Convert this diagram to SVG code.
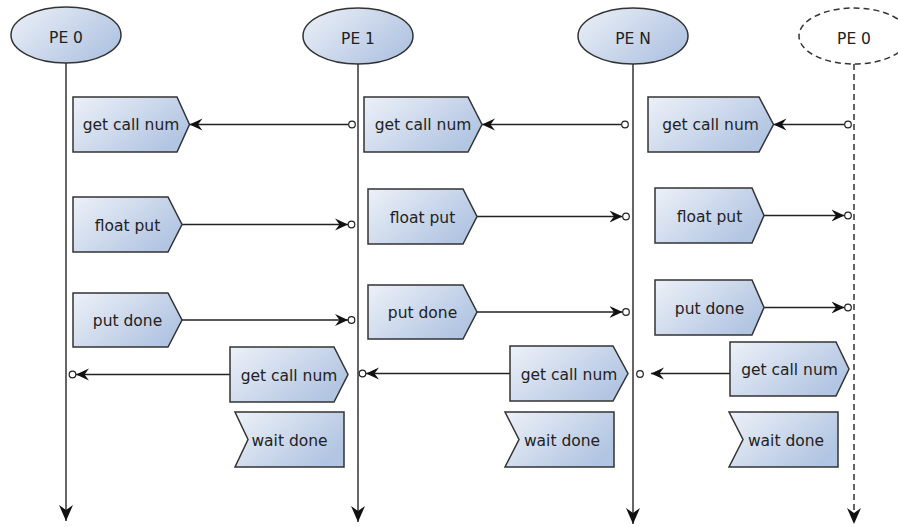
<svg xmlns="http://www.w3.org/2000/svg" width="898" height="527" viewBox="0 0 898 527">
<style>
.shape{fill:url(#g);stroke:#333;stroke-width:1.5}
.life{stroke:#333;stroke-width:1.5;fill:none}
.msg{stroke:#222;stroke-width:1.4;fill:none}
.dot{fill:#fff;stroke:#222;stroke-width:1.2}
text{font-family:"DejaVu Sans",sans-serif;font-size:15.5px;fill:#222;text-anchor:middle}
</style>
<defs>
<linearGradient id="g" x1="0" y1="0" x2="1" y2="0.6">
<stop offset="0" stop-color="#edf1f8"/>
<stop offset="1" stop-color="#b2c5e2"/>
</linearGradient>
<marker id="ah" markerUnits="userSpaceOnUse" markerWidth="15" markerHeight="14" refX="13" refY="6.5" orient="auto">
<path d="M0,0.5 L13,6.5 L0,12.5 L4.5,6.5 Z" fill="#111"/>
</marker>
<marker id="big" markerUnits="userSpaceOnUse" markerWidth="18" markerHeight="16" refX="16" refY="7" orient="auto">
<path d="M0,0 L16,7 L0,14 L5,7 Z" fill="#111"/>
</marker>
</defs>

<g id="lifelines">
<line class="life" x1="66" y1="63" x2="66" y2="521" marker-end="url(#big)"/>
<line class="life" x1="358" y1="64" x2="358" y2="522" marker-end="url(#big)"/>
<line class="life" x1="633" y1="64" x2="633" y2="524" marker-end="url(#big)"/>
<line class="life" x1="854" y1="64" x2="854" y2="524" stroke-dasharray="6,4" marker-end="url(#big)"/>
</g>

<g id="pe0"><ellipse class="shape" cx="66" cy="35" rx="55" ry="28"/><text x="66" y="43">PE 0</text></g>
<g id="pe1"><ellipse class="shape" cx="358" cy="36" rx="55" ry="28"/><text x="358" y="44">PE 1</text></g>
<g id="peN"><ellipse class="shape" cx="633" cy="36" rx="55" ry="28"/><text x="633" y="44">PE N</text></g>
<g id="pe0b"><ellipse cx="854" cy="36" rx="55" ry="28" fill="#fff" stroke="#333" stroke-width="1.5" stroke-dasharray="6,4"/><text x="854" y="44">PE 0</text></g>

<g id="connectors">
<line class="msg" x1="348.5" y1="124.5" x2="189.5" y2="124.5" marker-end="url(#ah)"/>
<circle class="dot" cx="352" cy="124.5" r="3.3"/>
<line class="msg" x1="621.5" y1="124.5" x2="482" y2="124.5" marker-end="url(#ah)"/>
<circle class="dot" cx="625" cy="124.5" r="3.3"/>
<line class="msg" x1="844.5" y1="124.5" x2="773.5" y2="124.5" marker-end="url(#ah)"/>
<circle class="dot" cx="848" cy="124.5" r="3.3"/>

<line class="msg" x1="182" y1="224.5" x2="348" y2="224.5" marker-end="url(#ah)"/>
<circle class="dot" cx="351.5" cy="224.5" r="3.3"/>
<line class="msg" x1="477" y1="216.5" x2="622.5" y2="216.5" marker-end="url(#ah)"/>
<circle class="dot" cx="626" cy="216.5" r="3.3"/>
<line class="msg" x1="764" y1="215.5" x2="844.5" y2="215.5" marker-end="url(#ah)"/>
<circle class="dot" cx="848" cy="215.5" r="3.3"/>

<line class="msg" x1="182" y1="320" x2="348" y2="320" marker-end="url(#ah)"/>
<circle class="dot" cx="351.5" cy="320" r="3.3"/>
<line class="msg" x1="477" y1="312" x2="622.5" y2="312" marker-end="url(#ah)"/>
<circle class="dot" cx="626" cy="312" r="3.3"/>
<line class="msg" x1="764" y1="307.5" x2="844.5" y2="307.5" marker-end="url(#ah)"/>
<circle class="dot" cx="848" cy="307.5" r="3.3"/>

<line class="msg" x1="230" y1="374.5" x2="76" y2="374.5" marker-end="url(#ah)"/>
<circle class="dot" cx="72.5" cy="374.5" r="3.3"/>
<line class="msg" x1="510" y1="373.5" x2="366" y2="373.5" marker-end="url(#ah)"/>
<circle class="dot" cx="362.5" cy="373.5" r="3.3"/>
<line class="msg" x1="730" y1="373.5" x2="651" y2="373.5" marker-end="url(#ah)"/>
<circle class="dot" cx="640" cy="374" r="3.3"/>
</g>

<g id="b1"><path class="shape" d="M73,97 H177 L189.5,124.5 L177,152 H73 Z"/><text x="131" y="130">get call num</text></g>
<g id="b2"><path class="shape" d="M364,97 H468 L482,124.5 L468,152 H364 Z"/><text x="423" y="130">get call num</text></g>
<g id="b3"><path class="shape" d="M648,97 H759 L773.5,124.5 L759,152 H648 Z"/><text x="710.5" y="130">get call num</text></g>

<g id="c1"><path class="shape" d="M73,197 H168 L182,224.5 L168,252 H73 Z"/><text x="127.5" y="230.5">float put</text></g>
<g id="c2"><path class="shape" d="M368,189 H463 L477,216.5 L463,244 H368 Z"/><text x="422.5" y="222.5">float put</text></g>
<g id="c3"><path class="shape" d="M655,188 H752 L764,215.5 L752,243 H655 Z"/><text x="709.5" y="221.5">float put</text></g>

<g id="d1"><path class="shape" d="M73,293 H168 L182,320 L168,347 H73 Z"/><text x="127.5" y="326">put done</text></g>
<g id="d2"><path class="shape" d="M368,285 H463 L477,312 L463,339 H368 Z"/><text x="422.5" y="318">put done</text></g>
<g id="d3"><path class="shape" d="M655,280 H752 L764,307.5 L752,335 H655 Z"/><text x="709.5" y="313.5">put done</text></g>

<g id="e1"><path class="shape" d="M230,347 H334 L348,374.5 L334,402 H230 Z"/><text x="289" y="380.5">get call num</text></g>
<g id="e2"><path class="shape" d="M510,346 H613 L628,373.5 L613,401 H510 Z"/><text x="569" y="379.5">get call num</text></g>
<g id="e3"><path class="shape" d="M730,342 H836 L849,369 L836,396 H730 Z"/><text x="789.5" y="375">get call num</text></g>

<g id="f1"><path class="shape" d="M235,412 H344 V467 H235 L248,439.5 Z"/><text x="289.5" y="446">wait done</text></g>
<g id="f2"><path class="shape" d="M505,412 H614 V467 H505 L519,439.5 Z"/><text x="562" y="446">wait done</text></g>
<g id="f3"><path class="shape" d="M729,412 H838 V467 H729 L743,439.5 Z"/><text x="786" y="446">wait done</text></g>
</svg>
